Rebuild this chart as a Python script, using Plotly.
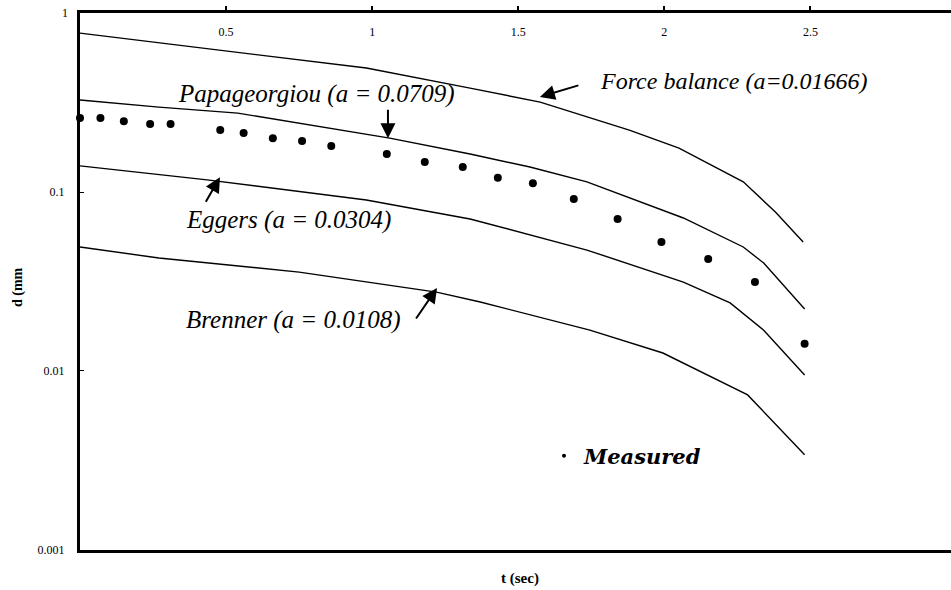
import math
import plotly.graph_objects as go

# Measured neck diameter d (mm) versus time t (sec)
t_meas = [0.0, 0.07, 0.15, 0.24, 0.31, 0.48, 0.56, 0.66, 0.76, 0.86, 1.05,
          1.18, 1.31, 1.43, 1.55, 1.69, 1.84, 1.99, 2.15, 2.31, 2.48]
d_meas = [0.259, 0.259, 0.249, 0.240, 0.240, 0.222, 0.214, 0.200, 0.193, 0.181, 0.163,
          0.147, 0.138, 0.120, 0.112, 0.0914, 0.0707, 0.0526, 0.0422, 0.0314, 0.0142]

# Model predictions
t_force = [0.0, 0.47, 0.98, 1.335, 1.575, 1.88, 2.05, 2.27, 2.38, 2.475]
d_force = [0.773, 0.621, 0.493, 0.381, 0.318, 0.222, 0.176, 0.114, 0.0773, 0.0526]

t_papa = [0.0, 0.27, 0.54, 1.06, 1.335, 1.54, 1.735, 2.065, 2.27, 2.34, 2.48]
d_papa = [0.327, 0.298, 0.276, 0.200, 0.163, 0.138, 0.114, 0.0716, 0.0493, 0.0401, 0.0222]

t_eggers = [0.0, 0.435, 0.98, 1.335, 1.735, 2.065, 2.225, 2.34, 2.48]
d_eggers = [0.140, 0.117, 0.0902, 0.0707, 0.0474, 0.0314, 0.0240, 0.0169, 0.0095]

t_brenner = [0.0, 0.27, 0.75, 1.22, 1.37, 1.745, 1.995, 2.285, 2.48]
d_brenner = [0.0493, 0.0428, 0.0357, 0.0276, 0.0243, 0.0169, 0.0126, 0.00735, 0.0034]

x_ticks = [0.5, 1, 1.5, 2, 2.5]
y_ticks = [1, 0.1, 0.01, 0.001]
y_tick_text = ["1", "0.1", "0.01", "0.001"]

SERIF = "Liberation Serif"
X_MAX = 2.981

fig = go.Figure()

line_style = dict(color="black", width=1.4)
for tx, dy, nm in [(t_force, d_force, "Force balance"),
                   (t_papa, d_papa, "Papageorgiou"),
                   (t_eggers, d_eggers, "Eggers"),
                   (t_brenner, d_brenner, "Brenner")]:
    fig.add_trace(go.Scatter(x=tx, y=dy, mode="lines", line=line_style,
                             name=nm, showlegend=False))

fig.add_trace(go.Scatter(x=t_meas, y=d_meas, mode="markers",
                         marker=dict(color="black", size=8),
                         name="Measured", showlegend=False, cliponaxis=False))
# legend entry with a small dot
fig.add_trace(go.Scatter(x=[None], y=[None], mode="markers",
                         marker=dict(color="black", size=4),
                         name="<b><i>Measured</i></b>", showlegend=True))

# model labels with arrows: (text, font size, text position, arrow head, arrow tail offset px)
labels = [
    ("Force balance (a=0.01666)", 24, (2.238, 0.42), (1.574, 0.340), (40, -12)),
    ("Papageorgiou (a = 0.0709)", 25, (0.811, 0.352), (1.054, 0.200), (0, -30)),
    ("Eggers (a = 0.0304)", 25, (0.715, 0.0698), (0.479, 0.121), (-15, 26)),
    ("Brenner (a = 0.0108)", 25, (0.732, 0.0193), (1.222, 0.0291), (-22, 32)),
]
for txt, fs, (tx, ty), (hx, hy), (ax, ay) in labels:
    fig.add_annotation(x=tx, y=math.log10(ty), xref="x", yref="y", text=txt,
                       showarrow=False, xanchor="center", yanchor="middle",
                       font=dict(family=SERIF, size=fs, style="italic", color="black"))
    fig.add_annotation(x=hx, y=math.log10(hy), xref="x", yref="y", text="",
                       showarrow=True, ax=ax, ay=ay, arrowhead=2, arrowsize=1.5,
                       arrowwidth=2, arrowcolor="black", standoff=0)

# axis titles
fig.add_annotation(x=-(80 - 18) / 871, y=(550 - 287) / 537, xref="paper", yref="paper",
                   text="<b>d (mm</b>", textangle=-90, showarrow=False,
                   xanchor="center", yanchor="middle",
                   font=dict(family=SERIF, size=14, color="black"))
fig.add_annotation(x=(520 - 80) / 871, y=-(579 - 550) / 537, xref="paper", yref="paper",
                   text="<b>t (sec)</b>", showarrow=False,
                   xanchor="center", yanchor="middle",
                   font=dict(family=SERIF, size=15, color="black"))
# the tick label at t = 3 sits on the right edge
fig.add_annotation(x=3 / X_MAX, y=(550 - 33) / 537, xref="paper", yref="paper",
                   text="3", showarrow=False, xanchor="center", yanchor="middle",
                   font=dict(family=SERIF, size=12, color="black"))
# label for the top decade of the y axis (hidden by the inside x tick labels otherwise)
fig.add_annotation(x=-10 / 871, y=1, xref="paper", yref="paper",
                   text=y_tick_text[0], showarrow=False, xanchor="right", yanchor="middle",
                   font=dict(family=SERIF, size=12, color="black"))

fig.update_layout(
    width=951, height=590,
    margin=dict(l=80, r=0, t=13, b=40),
    paper_bgcolor="white", plot_bgcolor="white",
    font=dict(family=SERIF, color="black"),
    legend=dict(x=(544 - 80) / 871, y=(550 - 456) / 537, xanchor="left", yanchor="middle",
                font=dict(family="DejaVu Serif", size=21, color="black"),
                bgcolor="rgba(0,0,0,0)", borderwidth=0),
)
fig.update_xaxes(
    range=[0, X_MAX], side="top", showgrid=False, zeroline=False,
    showline=True, linecolor="black", linewidth=3, mirror=True,
    tickvals=x_ticks, ticks="outside", ticklen=4, tickcolor="black", tickwidth=1.5,
    ticklabelposition="inside", ticklabelstandoff=14,
    tickfont=dict(family=SERIF, size=12, color="black"),
)
fig.update_yaxes(
    type="log", range=[-3.0005, 0.0005], showgrid=False, zeroline=False,
    showline=True, linecolor="black", linewidth=3,
    tickvals=y_ticks, ticktext=y_tick_text, ticks="inside", ticklen=4,
    tickcolor="black", tickwidth=1, ticklabelstandoff=10,
    tickfont=dict(family=SERIF, size=12, color="black"),
)

fig.write_html("out.html")
